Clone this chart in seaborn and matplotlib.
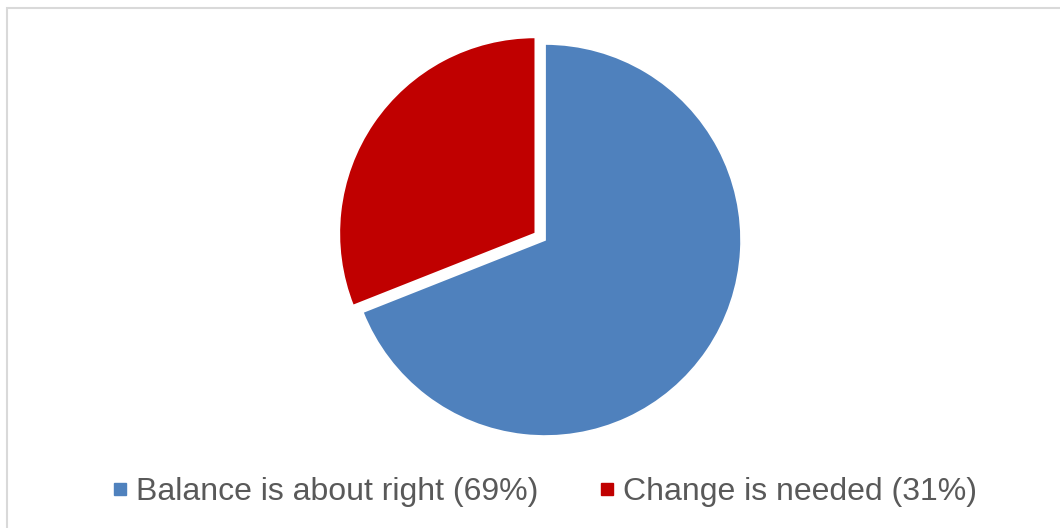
import matplotlib
matplotlib.use("Agg")
import matplotlib.pyplot as plt
from matplotlib.lines import Line2D
from matplotlib.patches import Rectangle
import seaborn as sns

categories = ["Balance is about right", "Change is needed"]
values = [69, 31]
colors = ["#4F81BD", "#C00000"]
explode = [0.0, 0.06]

sns.set_theme(style="white")
plt.rcParams['font.family'] = ['Liberation Sans', 'DejaVu Sans']

fig = plt.figure(figsize=(10.6, 5.28), dpi=100)
fig.patch.set_facecolor("white")

# outer light-gray frame
fig.add_artist(Rectangle((7 / 1060, -0.05), 1.1, 1 - 8 / 528 + 0.05,
                         transform=fig.transFigure, fill=False,
                         edgecolor="#D9D9D9", linewidth=1.5))

ax = fig.add_axes([0.3108, 0.1371, 0.4068, 0.8167])
ax.pie(values, colors=colors, startangle=90, counterclock=False,
       explode=explode, radius=1.0,
       wedgeprops=dict(edgecolor="white", linewidth=1.2))
ax.set_xlim(-1.1, 1.1)
ax.set_ylim(-1.1, 1.1)
ax.set_aspect("equal")
ax.axis("off")

handles = [Line2D([], [], marker="s", linestyle="", markersize=9,
                  markerfacecolor=c, markeredgecolor=c) for c in colors]
labels = [f"{c} ({v}%)" for c, v in zip(categories, values)]
leg = fig.legend(handles, labels, loc="center", bbox_to_anchor=(0.514, 0.068),
                 ncol=2, frameon=False, fontsize=23, handlelength=0.45,
                 handletextpad=0.3, columnspacing=1.9, borderpad=0)
for t in leg.get_texts():
    t.set_color("#595959")

fig.savefig("out.png", dpi=100, facecolor="white")
